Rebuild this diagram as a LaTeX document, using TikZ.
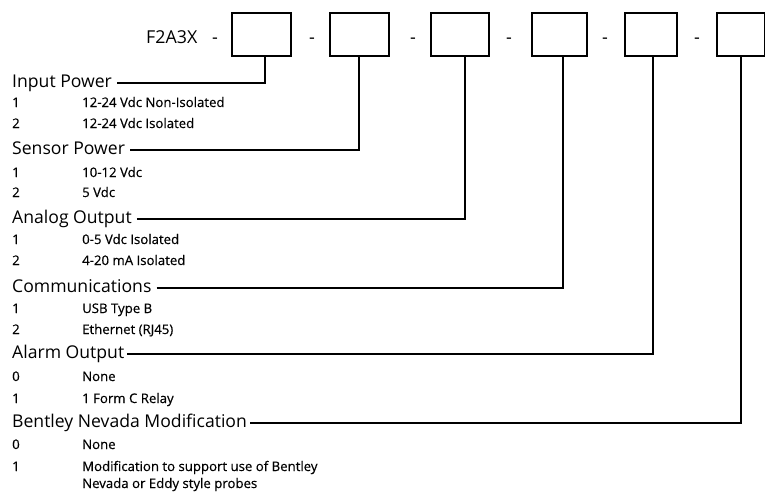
\documentclass[tikz,border=0pt]{standalone}
\usepackage{fontspec}
\setmainfont{Open Sans}
\begin{document}
\begin{tikzpicture}[x=1pt,y=-1pt,
  head/.style={anchor=base west,inner sep=0pt,font=\fontsize{17.6}{20}\selectfont},
  item/.style={anchor=base west,inner sep=0pt,font=\fontsize{13.2}{15}\selectfont\addfontfeature{FakeBold=0.4}},
  codebox/.style={draw,line width=1.8pt,minimum height=43pt,inner sep=0pt},
  sep/.style={anchor=base,inner sep=0pt,font=\fontsize{18}{20}\selectfont},
  lead/.style={line width=1.5pt}]
\useasboundingbox (0,0) rectangle (765,491);
% part number
\node[anchor=base west,inner sep=0pt,font=\fontsize{17.8}{20}\selectfont] (pn) at (146,43) {F2A3X};
\node[sep] (d1) at (215,43) {-};
\node[sep] (d2) at (312,43) {-};
\node[sep] (d3) at (413,43) {-};
\node[sep] (d4) at (509,43) {-};
\node[sep] (d5) at (605,43) {-};
\node[sep] (d6) at (697,43) {-};
\node[codebox,minimum width=59pt] (b1) at (261.5,34.5) {};
\node[codebox,minimum width=59pt] (b2) at (359.5,34.5) {};
\node[codebox,minimum width=58pt] (b3) at (460,34.5) {};
\node[codebox,minimum width=55pt] (b4) at (559.5,34.5) {};
\node[codebox,minimum width=52pt] (b5) at (651,34.5) {};
\node[codebox,minimum width=48pt] (b6) at (741,34.5) {};
% headings
\node[head] (h1) at (12,87) {Input Power};
\node[head] (h2) at (12,154) {Sensor Power};
\node[head] (h3) at (12,223) {Analog Output};
\node[head] (h4) at (12,292) {Communications};
\node[head] (h5) at (12,358) {Alarm Output};
\node[head] (h6) at (12,427) {Bentley Nevada Modification};
% items
\node[item] (n11) at (12,107) {1};  \node[item] (t11) at (82,107) {12-24 Vdc Non-Isolated};
\node[item] (n12) at (12,128) {2};  \node[item] (t12) at (82,128) {12-24 Vdc Isolated};
\node[item] (n21) at (12,177) {1};  \node[item] (t21) at (82,177) {10-12 Vdc};
\node[item] (n22) at (12,197) {2};  \node[item] (t22) at (82,197) {5 Vdc};
\node[item] (n31) at (12,244) {1};  \node[item] (t31) at (82,244) {0-5 Vdc Isolated};
\node[item] (n32) at (12,265) {2};  \node[item] (t32) at (82,265) {4-20 mA Isolated};
\node[item] (n41) at (12,313) {1};  \node[item] (t41) at (82,313) {USB Type B};
\node[item] (n42) at (12,334) {2};  \node[item] (t42) at (82,334) {Ethernet (RJ45)};
\node[item] (n51) at (12,381) {0};  \node[item] (t51) at (82,381) {None};
\node[item] (n52) at (12,403) {1};  \node[item] (t52) at (82,403) {1 Form C Relay};
\node[item] (n61) at (12,449) {0};  \node[item] (t61) at (82,449) {None};
\node[item] (n62) at (12,471) {1};  \node[item] (t62) at (82,471) {Modification to support use of Bentley};
\node[item] (t63) at (82,488) {Nevada or Eddy style probes};
% leader lines
\draw[lead] ([xshift=5pt,yshift=4pt]h1.base east) -| ([xshift=3.5pt]b1.south);
\draw[lead] ([xshift=5pt,yshift=4pt]h2.base east) -| ([xshift=-0.5pt]b2.south);
\draw[lead] ([xshift=5pt,yshift=4pt]h3.base east) -| ([xshift=5pt]b3.south);
\draw[lead] ([xshift=5pt,yshift=4pt]h4.base east) -| ([xshift=3.5pt]b4.south);
\draw[lead] ([xshift=3pt,yshift=4pt]h5.base east) -| ([xshift=2pt]b5.south);
\draw[lead] ([xshift=3pt,yshift=4pt]h6.base east) -| (b6.south);
\end{tikzpicture}
\end{document}
